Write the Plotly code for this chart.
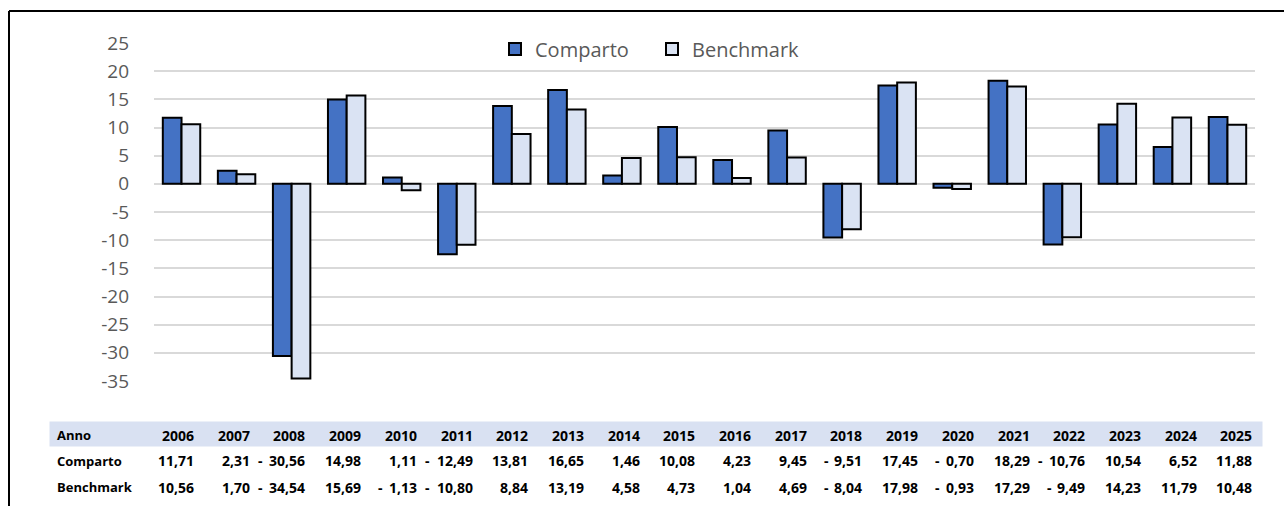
import plotly.graph_objects as go

# ---- data ----
years = [str(y) for y in range(2006, 2026)]
comparto = [11.71, 2.31, -30.56, 14.98, 1.11, -12.49, 13.81, 16.65, 1.46, 10.08,
            4.23, 9.45, -9.51, 17.45, -0.70, 18.29, -10.76, 10.54, 6.52, 11.88]
benchmark = [10.56, 1.70, -34.54, 15.69, -1.13, -10.80, 8.84, 13.19, 4.58, 4.73,
             1.04, 4.69, -8.04, 17.98, -0.93, 17.29, -9.49, 14.23, 11.79, 10.48]
y_ticks = [-35, -30, -25, -20, -15, -10, -5, 0, 5, 10, 15, 20, 25]
y_tick_labels = ["-35", "-30", "-25", "-20", "-15", "-10", "-5", "0", "5", "10", "15", "20", "25"]
row_labels = ["Anno", "Comparto", "Benchmark"]

# ---- geometry ----
W, H = 1284, 506
L, R, T, B = 154, 29, 43, 125
PW, PH = W - L - R, H - T - B


def px2x(px):
    return (px - L) / PW


def px2y(py):
    return (H - B - py) / PH


FONT = "Open Sans"

fig = go.Figure()
fig.add_trace(go.Bar(x=years, y=comparto, name="Comparto",
                     marker=dict(color="#4472C4", line=dict(color="#000000", width=2))))
fig.add_trace(go.Bar(x=years, y=benchmark, name="Benchmark",
                     marker=dict(color="#DAE3F3", line=dict(color="#000000", width=2))))

shapes = []
# outer border (left and top)
shapes.append(dict(type="line", xref="paper", yref="paper", x0=px2x(9), x1=px2x(1300),
                   y0=px2y(11), y1=px2y(11), line=dict(color="#000000", width=2)))
shapes.append(dict(type="line", xref="paper", yref="paper", x0=px2x(9), x1=px2x(9),
                   y0=px2y(11), y1=px2y(520), line=dict(color="#000000", width=2)))
# table header band
shapes.append(dict(type="rect", xref="paper", yref="paper", x0=px2x(49.5), x1=px2x(1262.5),
                   y0=px2y(446.5), y1=px2y(421.5), fillcolor="#D9E1F2", line=dict(width=0),
                   layer="below"))

annotations = []
row_y = [435, 461, 487]
lfont = dict(family=FONT, size=13, color="#000000")
nfont = dict(family=FONT, size=14, color="#000000")
for lab, ry in zip(row_labels, row_y):
    annotations.append(dict(xref="paper", yref="paper", x=px2x(55), y=px2y(ry), text="<b>%s</b>" % lab,
                            showarrow=False, xanchor="left", yanchor="middle", font=lfont))


def fmt(v):
    return ("%.2f" % abs(v)).replace(".", ",")


for i, yr in enumerate(years):
    rx = 194 + 55.7 * i + 2
    annotations.append(dict(xref="paper", yref="paper", x=px2x(rx), y=px2y(row_y[0]), text="<b>%s</b>" % yr,
                            showarrow=False, xanchor="right", yanchor="middle", font=nfont))
    for series, ry in ((comparto, row_y[1]), (benchmark, row_y[2])):
        v = series[i]
        annotations.append(dict(xref="paper", yref="paper", x=px2x(rx), y=px2y(ry), text="<b>%s</b>" % fmt(v),
                                showarrow=False, xanchor="right", yanchor="middle", font=nfont))
        if v < 0:
            off = 47 if abs(v) >= 10 else 38
            annotations.append(dict(xref="paper", yref="paper", x=px2x(rx - off), y=px2y(ry), text="<b>-</b>",
                                    showarrow=False, xanchor="center", yanchor="middle", font=nfont))

fig.update_layout(
    width=W, height=H,
    margin=dict(l=L, r=R, t=T, b=B, autoexpand=False),
    paper_bgcolor="#FFFFFF", plot_bgcolor="#FFFFFF",
    barmode="group", bargap=0.32, bargroupgap=0,
    font=dict(family=FONT, color="#595959"),
    showlegend=True,
    legend=dict(orientation="h", x=px2x(495), xanchor="left", y=px2y(49), yanchor="middle",
                bgcolor="rgba(255,255,255,1)", font=dict(family=FONT, size=20, color="#595959"),
                entrywidth=112, entrywidthmode="pixels", traceorder="normal"),
    xaxis=dict(showticklabels=False, showgrid=False, zeroline=False, showline=False, ticks=""),
    yaxis=dict(range=[-35, 25], tickvals=y_ticks, ticktext=y_tick_labels, showgrid=True,
               gridcolor="#D9D9D9", gridwidth=1.5, zeroline=True, zerolinecolor="#D9D9D9",
               zerolinewidth=1.5, showline=False, ticks="", ticklabelstandoff=24,
               tickfont=dict(family=FONT, size=19, color="#595959")),
    shapes=shapes,
    annotations=annotations,
    hovermode=False,
)

fig.write_html("out.html", config={"displayModeBar": False},
               post_script="document.body.style.margin='0';document.body.style.padding='0';")
